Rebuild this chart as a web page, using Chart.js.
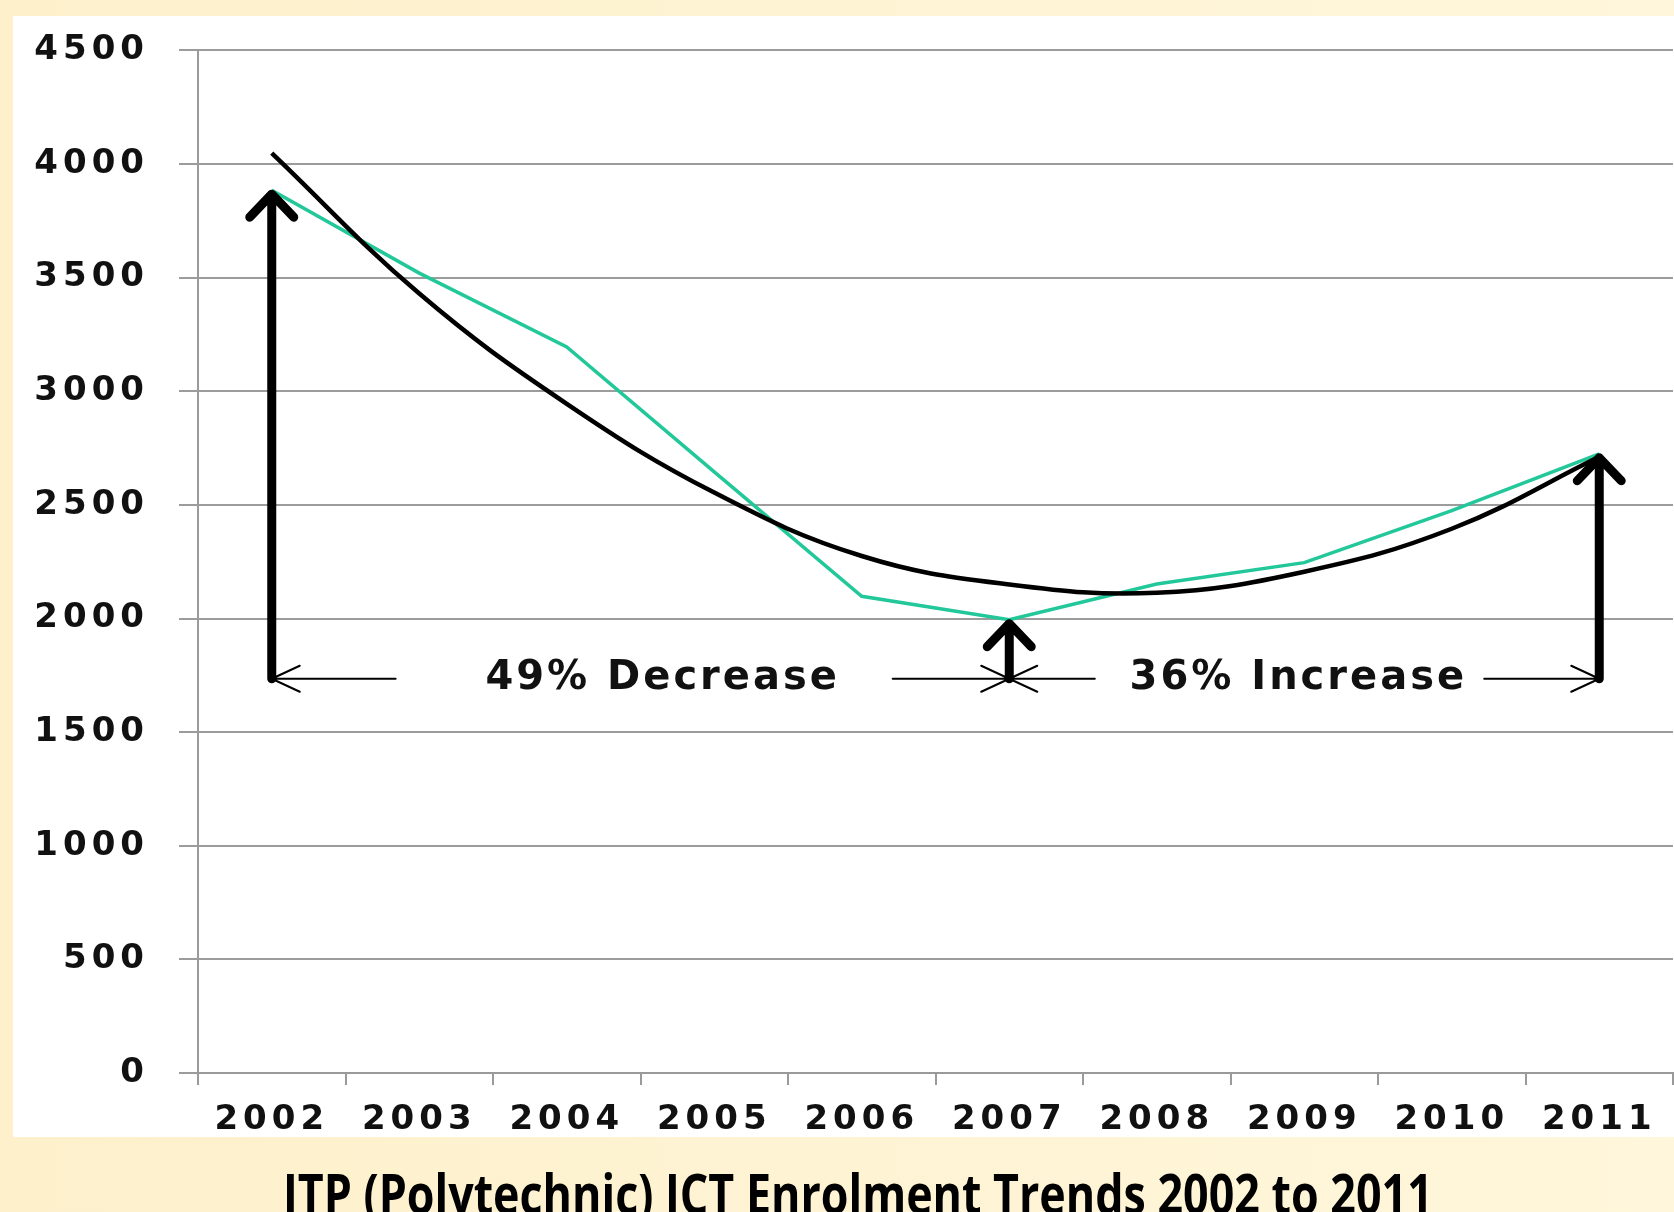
<!DOCTYPE html>
<html>
<head>
<meta charset="utf-8">
<script src="https://cdn.jsdelivr.net/npm/chart.js@4.4.0/dist/chart.umd.min.js"></script>
<style>
  html, body { margin: 0; padding: 0; }
  body {
    width: 1674px; height: 1212px; position: relative; overflow: hidden;
    background: linear-gradient(90deg, #fdf0cb, #fff6db);
  }
  #grafica { position: absolute; left: 0; top: 0; }
  #title {
    position: absolute; left: 283px; top: 1154px; white-space: nowrap;
    line-height: 56px; color: #000; transform-origin: 0 0;
    font: bold 56px "Open Sans", "Noto Sans", sans-serif;
  }
</style>
</head>
<body>
<canvas id="grafica" width="1674" height="1212"></canvas>
<span id="title">ITP (Polytechnic) ICT Enrolment Trends 2002 to 2011</span>
<script>
const years = ['2002', '2003', '2004', '2005', '2006', '2007', '2008', '2009', '2010', '2011'];
const enrolment = [3885, 3520, 3195, 2645, 2098, 1995, 2152, 2246, 2475, 2725];
const trend = [4048, 3430, 2945, 2554, 2275, 2150, 2113, 2206, 2395, 2712];

// annotation: vertical arrows at these year indexes, horizontal arrows along arrowBase
const arrowAt = [0, 5, 9];
const arrowBase = 1735;
const spans = [[0, 0.84], [5, 4.21], [5, 5.58], [9, 8.22]]; // [tip, tail] in category index
const notes = ['49% Decrease', '36% Increase'];
const notePos = [2.65, 6.96];

const tickFont = { family: 'DejaVu Sans', size: 34, weight: 'bold' };

// squeeze the title to the condensed width of the original
const title = document.querySelector('#title');
title.style.transform = 'scaleX(' + (1150 / title.offsetWidth) + ')';

const panel = {
    id: 'panel',
    beforeDraw(chart) {
        const ctx = chart.ctx;
        ctx.save();
        ctx.fillStyle = '#ffffff';
        ctx.fillRect(13, 16, chart.width - 13, 1121);
        ctx.restore();
        ctx.letterSpacing = '5px';
    }
};

const arrows = {
    id: 'arrows',
    afterDatasetsDraw(chart) {
        const ctx = chart.ctx;
        const x = chart.scales.x, y = chart.scales.y;
        const by = y.getPixelForValue(arrowBase);
        ctx.save();
        ctx.strokeStyle = '#000';
        ctx.lineCap = 'round';
        ctx.lineJoin = 'round';

        // thin horizontal arrows
        ctx.lineWidth = 2;
        spans.forEach(s => {
            const tip = x.getPixelForValue(s[0]);
            const tail = x.getPixelForValue(s[1]);
            const d = tail > tip ? 1 : -1;
            ctx.beginPath();
            ctx.moveTo(tail, by);
            ctx.lineTo(tip, by);
            ctx.moveTo(tip + d * 28, by - 13);
            ctx.lineTo(tip, by);
            ctx.lineTo(tip + d * 28, by + 13);
            ctx.stroke();
        });

        // thick vertical arrows
        ctx.lineWidth = 9;
        arrowAt.forEach(i => {
            const px = x.getPixelForValue(i);
            const top = y.getPixelForValue(enrolment[i]);
            ctx.beginPath();
            ctx.moveTo(px, by);
            ctx.lineTo(px, top + 4);
            ctx.moveTo(px - 22, top + 27);
            ctx.lineTo(px, top + 4);
            ctx.lineTo(px + 22, top + 27);
            ctx.stroke();
        });

        ctx.letterSpacing = '3px';
        ctx.fillStyle = '#111';
        ctx.font = 'bold 40px "DejaVu Sans"';
        ctx.textAlign = 'center';
        ctx.textBaseline = 'middle';
        notes.forEach((t, k) => {
            ctx.fillText(t, x.getPixelForValue(notePos[k]), by);
        });
        ctx.restore();
    }
};

const graph = document.querySelector('#grafica');

new Chart(graph, {
    type: 'line',
    data: {
        labels: years,
        datasets: [
            { label: 'Trend', data: trend, borderColor: '#000', borderWidth: 4.5, tension: 0.4, pointRadius: 0, fill: false },
            { label: 'Enrolment', data: enrolment, borderColor: '#22c79a', borderWidth: 3.5, tension: 0, pointRadius: 0, fill: false }
        ]
    },
    options: {
        responsive: false,
        animation: false,
        events: [],
        layout: { padding: { top: 44, right: 1, bottom: 75, left: 0 } },
        plugins: { legend: { display: false }, tooltip: { enabled: false } },
        scales: {
            x: {
                offset: true,
                grid: { offset: true, drawOnChartArea: false, tickLength: 12, color: '#9a9a9a', lineWidth: 2 },
                border: { color: '#9a9a9a', width: 2 },
                ticks: { font: tickFont, color: '#111', padding: 15, autoSkip: false, maxRotation: 0 },
                afterFit(s) { s.height = 64; }
            },
            y: {
                min: 0, max: 4500,
                grid: { color: '#9c9c9c', lineWidth: 2, tickLength: 19 },
                border: { color: '#9a9a9a', width: 2 },
                ticks: { stepSize: 500, font: tickFont, color: '#111', padding: 30, callback: v => String(v) },
                afterFit(s) { s.width = 198; }
            }
        }
    },
    plugins: [panel, arrows]
});
</script>
</body>
</html>
